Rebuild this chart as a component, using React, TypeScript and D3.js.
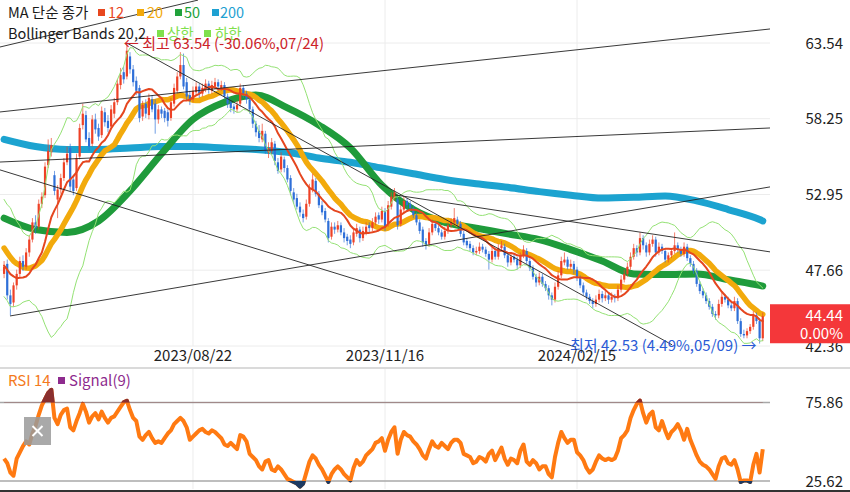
import { useEffect, useRef } from 'react';
import * as d3 from 'd3';

const W = 850;
const H = 492;
const PLOT_R = 770;
const FONT = "'Noto Sans CJK KR', 'Noto Sans', sans-serif";

// closes before the first visible day, only used to warm up MA12/MA20/BB
const priorCloses = [52.4, 51.6, 51.9, 51.0, 50.5, 50.8, 49.9, 50.2, 49.4, 49.0, 48.5, 48.9, 48.0, 47.6, 48.1, 47.3, 46.8, 47.4, 46.9];

// daily candles [open, high, low, close], 2023/05/25 .. 2024/05/10
const ohlc: [number, number, number, number][] = [
  [47.4, 48.3, 47.1, 47.9], [48.1, 48.4, 45.6, 45.9], [45.9, 46.3, 44.5, 45.3], [45.4, 46.8, 45.1, 46.6], [46.6, 47.7, 46.3, 47.4],
  [47.4, 48.6, 47.2, 48.3], [48.3, 48.7, 47.6, 47.9], [47.9, 49.2, 47.7, 48.9], [48.9, 50.1, 48.6, 49.8], [49.8, 51.3, 49.6, 51.0],
  [51.0, 51.5, 50.2, 50.6], [50.7, 52.6, 50.5, 52.3], [52.3, 53.1, 52.0, 52.8], [52.9, 55.2, 52.7, 54.9], [55.0, 56.8, 54.8, 56.0],
  [55.9, 56.9, 55.6, 56.4], [54.3, 54.6, 52.9, 53.2], [52.6, 53.6, 51.3, 53.3], [53.3, 54.4, 53.0, 54.1], [54.1, 55.5, 53.9, 55.2],
  [55.2, 56.3, 55.0, 55.8], [56.2, 56.5, 53.2, 53.5], [54.0, 54.3, 52.9, 53.2], [53.4, 55.8, 53.2, 55.5], [55.6, 57.9, 55.4, 57.6],
  [57.8, 59.3, 57.5, 58.6], [58.5, 58.8, 56.6, 56.8], [56.9, 57.3, 56.0, 56.3], [56.5, 58.5, 56.3, 58.2], [58.2, 58.6, 57.2, 57.5],
  [57.6, 57.9, 56.7, 57.0], [57.1, 59.1, 56.9, 58.8], [58.7, 59.0, 57.7, 58.0], [58.1, 58.5, 57.3, 57.6], [57.7, 59.2, 57.5, 58.9],
  [58.6, 59.7, 58.3, 59.4], [59.4, 61.0, 59.2, 60.7], [60.6, 61.8, 60.3, 61.3], [61.5, 61.9, 60.7, 61.0], [61.2, 63.54, 61.0, 63.0],
  [62.6, 62.9, 61.4, 61.7], [61.7, 62.0, 60.5, 60.8], [60.9, 61.2, 59.9, 60.2], [60.4, 60.6, 58.0, 58.3], [58.4, 59.5, 58.1, 59.2],
  [59.3, 59.6, 58.3, 58.6], [58.5, 60.0, 58.2, 59.7], [59.6, 59.9, 58.7, 58.9], [59.3, 59.6, 57.2, 58.2], [58.2, 59.2, 57.9, 58.9],
  [58.9, 59.1, 58.3, 58.6], [58.8, 59.0, 58.0, 58.3], [58.7, 58.9, 57.7, 58.1], [58.3, 59.7, 58.1, 59.4], [59.3, 60.7, 59.1, 60.4],
  [60.2, 61.5, 60.0, 61.2], [61.2, 62.9, 61.0, 62.0], [62.0, 62.8, 60.3, 60.5], [60.8, 61.1, 59.5, 59.8], [59.9, 60.2, 59.2, 59.5],
  [59.6, 60.5, 59.4, 60.2], [60.1, 60.8, 59.9, 60.5], [60.5, 60.7, 59.7, 60.0], [60.0, 60.7, 59.8, 60.4], [60.3, 61.0, 60.1, 60.7],
  [60.7, 60.9, 60.0, 60.3], [60.2, 60.9, 60.0, 60.6], [60.5, 61.1, 60.3, 60.8], [60.8, 61.0, 60.2, 60.5], [60.4, 60.9, 60.2, 60.6],
  [60.6, 60.8, 59.6, 59.8], [59.8, 60.0, 59.0, 59.3], [59.4, 59.6, 58.7, 59.0], [59.1, 59.3, 58.6, 58.9], [58.9, 59.5, 58.7, 59.2],
  [59.3, 60.7, 59.1, 60.4], [60.4, 60.6, 59.7, 60.0], [60.0, 60.2, 59.3, 59.6], [59.6, 59.8, 58.6, 58.9], [58.9, 59.1, 57.6, 57.9],
  [57.9, 58.1, 57.0, 57.3], [57.4, 57.8, 56.6, 56.9], [56.8, 57.9, 56.6, 57.4], [57.2, 57.4, 55.8, 56.0], [55.9, 56.6, 55.5, 56.2],
  [56.0, 56.9, 55.8, 56.6], [56.5, 56.7, 55.0, 55.3], [55.2, 55.5, 54.4, 54.6], [54.7, 55.9, 54.5, 55.6], [55.4, 55.6, 54.5, 54.8],
  [54.8, 55.0, 53.8, 54.0], [54.1, 54.3, 52.9, 53.2], [53.1, 53.4, 52.3, 52.6], [52.7, 53.0, 51.9, 52.1], [52.1, 52.4, 51.4, 51.7],
  [51.6, 51.9, 51.0, 51.3], [51.4, 52.6, 51.2, 52.3], [52.3, 53.7, 52.1, 53.4], [53.3, 54.4, 53.1, 54.0], [53.9, 54.1, 52.8, 53.0],
  [53.0, 53.2, 52.0, 52.2], [52.2, 52.5, 51.5, 51.7], [51.8, 52.0, 51.0, 51.2], [51.1, 51.3, 49.6, 49.9], [50.0, 51.0, 49.8, 50.7],
  [50.7, 51.0, 50.2, 50.5], [50.5, 51.1, 50.3, 50.8], [50.8, 51.0, 50.1, 50.3], [50.3, 50.6, 49.6, 49.9], [50.0, 50.2, 49.4, 49.7],
  [49.8, 50.1, 49.2, 49.5], [49.6, 50.6, 49.4, 50.3], [50.2, 50.9, 50.0, 50.6], [50.5, 50.7, 49.6, 49.9], [49.9, 50.7, 49.7, 50.4],
  [50.3, 51.0, 50.1, 50.7], [50.8, 51.0, 50.3, 50.6], [50.6, 51.3, 50.4, 51.0], [51.0, 51.7, 50.8, 51.4], [51.5, 51.7, 50.9, 51.2],
  [51.2, 52.1, 51.0, 51.8], [51.8, 52.0, 50.4, 50.7], [50.9, 52.5, 50.7, 52.2], [52.1, 53.1, 51.9, 52.8], [52.7, 53.4, 52.5, 53.1],
  [52.6, 52.8, 50.5, 50.8], [50.9, 52.2, 50.7, 51.9], [51.9, 52.8, 51.7, 52.5], [52.5, 52.7, 51.9, 52.2], [52.3, 52.5, 51.8, 52.0],
  [52.0, 52.2, 51.3, 51.5], [51.5, 51.7, 50.8, 51.0], [51.0, 51.2, 50.2, 50.4], [50.5, 50.7, 49.3, 49.6], [49.7, 49.9, 49.1, 49.4],
  [49.5, 50.6, 49.3, 50.3], [50.3, 51.2, 50.1, 50.9], [50.9, 51.1, 50.4, 50.6], [50.6, 50.8, 50.1, 50.3], [50.3, 50.5, 49.8, 50.0],
  [50.0, 50.7, 49.8, 50.4], [50.4, 51.0, 50.2, 50.8], [50.8, 51.3, 50.6, 51.0], [51.0, 52.0, 50.8, 51.3], [51.2, 51.4, 50.7, 50.9],
  [50.9, 51.1, 50.0, 50.2], [50.2, 50.4, 49.4, 49.6], [49.7, 49.9, 49.2, 49.4], [49.5, 49.7, 49.0, 49.2], [49.2, 49.4, 48.7, 48.9],
  [48.9, 49.3, 48.7, 49.0], [49.0, 49.6, 48.8, 49.3], [49.3, 49.5, 48.9, 49.1], [49.1, 49.3, 48.6, 48.8], [48.8, 49.0, 47.7, 48.4],
  [48.4, 49.3, 48.2, 49.0], [49.0, 49.2, 48.4, 48.6], [48.6, 49.5, 48.4, 49.2], [49.2, 49.7, 49.0, 49.4], [49.3, 49.5, 48.5, 48.7],
  [48.7, 48.9, 47.9, 48.2], [48.2, 48.9, 48.0, 48.6], [48.6, 48.8, 48.2, 48.4], [48.4, 48.6, 47.7, 48.0], [48.0, 48.9, 47.8, 48.7],
  [48.7, 49.4, 48.5, 49.1], [49.0, 49.2, 48.1, 48.3], [48.3, 48.5, 47.6, 47.8], [47.8, 48.0, 47.0, 47.2], [47.2, 47.4, 46.5, 46.8],
  [46.8, 47.5, 46.6, 47.2], [47.2, 47.4, 46.5, 46.7], [46.7, 46.9, 46.2, 46.4], [46.4, 46.6, 45.6, 45.9], [45.9, 46.1, 45.2, 45.6],
  [45.6, 46.8, 45.4, 46.5], [46.5, 47.6, 46.3, 47.3], [47.3, 48.6, 47.1, 48.3], [48.2, 48.9, 48.0, 48.4], [48.4, 48.6, 47.7, 47.9],
  [47.9, 48.4, 47.7, 48.1], [48.1, 48.3, 47.4, 47.7], [47.7, 47.9, 46.9, 47.1], [47.1, 47.3, 46.4, 46.6], [46.6, 46.8, 45.9, 46.1],
  [46.1, 46.3, 45.6, 45.8], [45.8, 46.0, 45.3, 45.5], [45.5, 45.7, 45.0, 45.3], [45.3, 45.9, 45.1, 45.6], [45.6, 46.3, 45.4, 46.0],
  [46.0, 46.2, 45.4, 45.7], [45.7, 46.2, 45.5, 45.9], [45.9, 46.1, 45.3, 45.6], [45.6, 46.1, 45.4, 45.8], [45.8, 46.0, 45.4, 45.7],
  [45.7, 46.6, 45.5, 46.3], [46.3, 47.3, 46.1, 47.0], [47.0, 47.7, 46.8, 47.4], [47.4, 48.2, 47.2, 47.9], [47.9, 48.9, 47.7, 48.6],
  [48.6, 49.5, 48.4, 49.2], [49.2, 49.4, 48.6, 48.9], [48.9, 50.3, 48.7, 49.9], [49.9, 50.1, 49.1, 49.4], [49.4, 49.6, 48.6, 48.9],
  [48.9, 49.8, 48.7, 49.5], [49.5, 50.1, 49.3, 49.8], [49.8, 50.0, 48.6, 48.9], [48.9, 49.6, 48.7, 49.3], [49.3, 49.5, 48.8, 49.0],
  [49.0, 49.2, 48.2, 48.4], [48.4, 48.9, 48.2, 48.7], [48.7, 49.2, 48.5, 49.0], [49.0, 50.3, 48.8, 49.4], [49.4, 49.6, 48.9, 49.1],
  [49.1, 49.3, 48.6, 48.8], [48.8, 49.6, 48.6, 49.3], [49.3, 49.5, 48.3, 48.5], [48.5, 48.7, 47.9, 48.1], [48.1, 48.3, 47.4, 47.6],
  [47.6, 47.8, 46.5, 46.7], [46.7, 46.9, 46.0, 46.2], [46.2, 46.4, 45.7, 45.9], [45.9, 46.1, 45.3, 45.5], [45.5, 45.7, 44.9, 45.1],
  [45.1, 45.3, 44.4, 44.6], [44.6, 44.8, 44.2, 44.5], [44.5, 45.6, 44.3, 45.3], [45.3, 46.1, 45.1, 45.8], [45.8, 46.0, 45.4, 45.6],
  [45.6, 45.8, 45.0, 45.2], [45.2, 45.4, 44.8, 45.0], [45.0, 45.8, 44.8, 45.5], [45.5, 45.7, 43.9, 44.1], [44.1, 44.3, 43.0, 43.2],
  [43.2, 43.5, 42.9, 43.1], [43.1, 43.6, 42.9, 43.4], [43.4, 43.9, 43.2, 43.7], [43.7, 44.8, 43.5, 44.5], [44.5, 44.7, 43.9, 44.1],
  [44.1, 44.3, 42.53, 42.9], [42.9, 44.7, 42.7, 44.44],
];

// RSI(14), one value per candle
const rsi14 = [
  40, 37, 31, 29, 40, 44, 48, 51, 49, 56,
  61, 68, 74, 78, 82, 84, 66, 62, 68, 71,
  72, 60, 58, 64, 69, 75, 70, 63, 67, 69,
  65, 70, 66, 63, 66, 67, 70, 73, 76, 77,
  71, 66, 64, 54, 52, 55, 57, 53, 50, 51,
  50, 53, 56, 58, 62, 64, 66, 64, 60, 52,
  54, 56, 58, 59, 57, 56, 58, 57, 55, 53,
  49, 48, 50, 48, 46, 55, 54, 51, 43, 41,
  39, 35, 33, 38, 39, 33, 32, 35, 33, 30,
  27, 26, 25, 24, 22, 24, 31, 38, 42, 40,
  36, 33, 29, 25, 30, 33, 35, 33, 30, 28,
  26, 34, 39, 36, 38, 42, 44, 46, 50, 51,
  53, 45, 52, 57, 60, 43, 52, 57, 55, 54,
  51, 49, 46, 42, 40, 46, 51, 48, 47, 50,
  48, 46, 50, 52, 52, 50, 43, 42, 41, 37,
  38, 41, 40, 38, 43, 45, 39, 43, 47, 40,
  36, 40, 39, 37, 45, 49, 38, 36, 39, 37,
  33, 35, 35, 30, 28, 41, 50, 57, 53, 50,
  52, 52, 44, 42, 39, 34, 31, 33, 38, 42,
  40, 39, 40, 39, 40, 45, 53, 55, 58, 66,
  71, 75, 77, 69, 63, 68, 70, 60, 58, 64,
  58, 53, 57, 59, 62, 58, 52, 59, 52, 47,
  42, 38, 36, 35, 33, 30, 27, 35, 40, 41,
  37, 36, 39, 33, 25, 26, 26, 25, 36, 43,
  31, 46,
];

// MA50 / MA200 at every 10th candle (+ last)
const maSampleIdx = [0, 10, 20, 30, 40, 50, 60, 70, 80, 90, 100, 110, 120, 130, 140, 150, 160, 170, 180, 190, 200, 210, 220, 230, 240, 241];
const ma50 = [51.3, 50.5, 50.3, 51.1, 53.2, 55.8, 58.2, 59.4, 59.9, 59.0, 57.8, 56.2, 53.6, 51.9, 51.0, 50.6, 50.2, 49.8, 49.1, 48.3, 47.4, 47.35, 47.4, 47.0, 46.6, 46.55];
const ma200 = [56.8, 56.3, 56.1, 56.1, 56.2, 56.3, 56.3, 56.2, 56.1, 55.9, 55.5, 55.2, 54.8, 54.4, 54.0, 53.7, 53.45, 53.15, 52.9, 52.7, 52.75, 52.85, 52.5, 51.9, 51.2, 51.1];

const priceTicks = [63.54, 58.25, 52.95, 47.66, 42.36];
const rsiLevels = [75.86, 25.62];
const dateTickIdx = [60, 121, 182];
const dateTickLabels = ['2023/08/22', '2023/11/16', '2024/02/15'];

// drawn trend lines: [index1, price1, index2, price2]
const trendLines: [number, number, number, number][] = [
  [-1.3, 58.72, 243.3, 64.52],
  [-1.3, 55.22, 243.3, 57.6],
  [-1.3, 63.26, 61.6, 66.54],
  [39, 63.54, 212.2, 42.44],
  [-1.3, 54.67, 181.4, 42.3],
  [1.9, 44.46, 243.3, 53.48],
  [124.2, 52.92, 243.3, 48.94],
];

const highIdx = 39;
const highVal = 63.54;
const lowIdx = 240;
const lowVal = 42.53;
const lastClose = 44.44;
const lastChange = '0.00%';

const UP = '#ee4126';
const DOWN = '#2e6fd8';

export default function App() {
  const svgRef = useRef<SVGSVGElement>(null);

  useEffect(() => {
    if (!svgRef.current) return;
    const svg = d3.select(svgRef.current);
    svg.selectAll('*').remove();

    const N = ohlc.length;
    const closes = ohlc.map(d => d[3]);
    const all = priorCloses.concat(closes);
    const P = priorCloses.length;
    const win = (i: number, n: number) => all.slice(P + i - n + 1, P + i + 1);
    const sma = (n: number) => d3.range(N).map(i => d3.mean(win(i, n)) as number);
    const ma12 = sma(12);
    const ma20 = sma(20);
    const bbUp: number[] = [];
    const bbLo: number[] = [];
    d3.range(N).forEach(i => {
      const w = win(i, 20);
      const m = d3.mean(w) as number;
      const sd = Math.sqrt(d3.mean(w, v => (v - m) * (v - m)) as number);
      bbUp.push(m + 2 * sd);
      bbLo.push(m - 2 * sd);
    });

    const x = d3.scaleLinear().domain([-1.3, 243.3]).range([0, PLOT_R]);
    const y = d3.scaleLinear().domain([42.36, 63.54]).range([346, 43]);
    const yR = d3.scaleLinear().domain([25.62, 75.86]).range([481, 402.5]);

    svg.append('rect').attr('width', W).attr('height', H).attr('fill', '#fff');

    const defs = svg.append('defs');
    defs.append('clipPath').attr('id', 'clip-price')
      .append('rect').attr('x', 0).attr('y', 0).attr('width', PLOT_R).attr('height', 366);
    defs.append('clipPath').attr('id', 'clip-ob')
      .append('rect').attr('x', 0).attr('y', 369).attr('width', PLOT_R).attr('height', yR(75.86) - 369);
    defs.append('clipPath').attr('id', 'clip-os')
      .append('rect').attr('x', 0).attr('y', yR(25.62)).attr('width', PLOT_R).attr('height', 489 - yR(25.62));

    // grid
    const grid = svg.append('g').attr('stroke', '#ececec').attr('stroke-width', 1);
    grid.selectAll('line.h').data(priceTicks).join('line').attr('class', 'h')
      .attr('x1', 0).attr('x2', PLOT_R).attr('y1', d => y(d)).attr('y2', d => y(d));
    grid.selectAll('line.v').data(dateTickIdx).join('line').attr('class', 'v')
      .attr('x1', d => x(d)).attr('x2', d => x(d)).attr('y1', 0).attr('y2', 346);
    grid.selectAll('line.vr').data(dateTickIdx).join('line').attr('class', 'vr')
      .attr('x1', d => x(d)).attr('x2', d => x(d)).attr('y1', 369).attr('y2', 489);

    const price = svg.append('g').attr('clip-path', 'url(#clip-price)');

    const lineI = d3.line<number>().x((_, i) => x(i)).y(d => y(d));
    const lineS = d3.line<number>().x((_, k) => x(maSampleIdx[k])).y(d => y(d)).curve(d3.curveMonotoneX);

    const thick = (d: string, color: string, w: number) =>
      price.append('path').attr('d', d).attr('fill', 'none').attr('stroke', color)
        .attr('stroke-width', w).attr('stroke-linejoin', 'round').attr('stroke-linecap', 'round');

    thick(lineS(ma200) as string, '#1ca3d0', 7);
    thick(lineS(ma50) as string, '#1f9b3b', 7);
    thick(lineI(ma20) as string, '#f2aa0c', 5.5);

    // candles
    const bw = 2.2;
    const cg = price.append('g');
    const col = (d: [number, number, number, number]) => (d[3] >= d[0] ? UP : DOWN);
    cg.selectAll('line').data(ohlc).join('line')
      .attr('x1', (_, i) => x(i)).attr('x2', (_, i) => x(i))
      .attr('y1', d => y(d[1])).attr('y2', d => y(d[2]))
      .attr('stroke', d => col(d)).attr('stroke-width', 0.9).attr('opacity', 0.75);
    cg.selectAll('rect').data(ohlc).join('rect')
      .attr('x', (_, i) => x(i) - bw / 2).attr('width', bw)
      .attr('y', d => y(Math.max(d[0], d[3])))
      .attr('height', d => Math.max(1, Math.abs(y(d[0]) - y(d[3]))))
      .attr('fill', d => col(d));

    thick(lineI(ma12) as string, '#e5461f', 2);
    thick(lineI(bbUp) as string, '#94e274', 1);
    thick(lineI(bbLo) as string, '#94e274', 1);

    // trend lines
    price.append('g').selectAll('line').data(trendLines).join('line')
      .attr('x1', d => x(d[0])).attr('y1', d => y(d[1]))
      .attr('x2', d => x(d[2])).attr('y2', d => y(d[3]))
      .attr('stroke', '#222').attr('stroke-width', 0.9);

    // legends
    const txt = (tx: number, ty: number, s: string, color: string, size = 14.5, anchor = 'start') =>
      svg.append('text').attr('x', tx).attr('y', ty).attr('fill', color).attr('font-size', size)
        .attr('font-family', FONT).attr('text-anchor', anchor).text(s);
    const sq = (sx: number, sy: number, color: string) =>
      svg.append('rect').attr('x', sx).attr('y', sy).attr('width', 7).attr('height', 7).attr('fill', color);

    txt(8, 18, 'MA 단순 종가', '#1a1a1a');
    sq(98, 9, '#e8471e'); txt(108, 18, '12', '#e8471e');
    sq(137, 9, '#f2a90a'); txt(147, 18, '20', '#f2a90a');
    sq(175, 9, '#21a23b'); txt(184, 18, '50', '#21a23b');
    sq(212, 9, '#1ea1d2'); txt(220, 18, '200', '#1ea1d2');

    txt(8, 39, 'Bollinger Bands 20,2', '#1a1a1a');
    sq(157, 30, '#7fe04c'); txt(167, 39, '상한', '#7fe04c');
    sq(204, 30, '#7fe04c'); txt(215, 39, '하한', '#7fe04c');

    // high / low annotations
    txt(x(highIdx) - 3, y(highVal) + 6, '← 최고 63.54 (-30.06%,07/24)', '#cc2229', 15);
    txt(x(lowIdx) - 3, y(lowVal) + 7, '최저 42.53 (4.49%,05/09) →', '#2a5bd6', 15, 'end');

    // price axis
    svg.append('g').selectAll('text').data(priceTicks).join('text')
      .attr('x', 843).attr('y', d => y(d) + 5.5).attr('text-anchor', 'end')
      .attr('font-size', 15).attr('font-family', FONT).attr('fill', '#222')
      .text(d => d.toFixed(2));

    // date axis
    svg.append('g').selectAll('text').data(dateTickIdx).join('text')
      .attr('x', d => x(d)).attr('y', 361).attr('text-anchor', 'middle')
      .attr('font-size', 15).attr('font-family', FONT).attr('fill', '#222')
      .text((_, k) => dateTickLabels[k]);

    // current price tag
    const tagY = y(lastClose) - 12;
    svg.append('rect').attr('x', PLOT_R).attr('y', tagY).attr('width', W - PLOT_R).attr('height', 39).attr('fill', '#f4373a');
    txt(843, tagY + 17, lastClose.toFixed(2), '#fff', 15, 'end');
    txt(843, tagY + 35, lastChange, '#fff', 15, 'end');

    // panel separators
    svg.append('line').attr('x1', 0).attr('x2', W).attr('y1', 368).attr('y2', 368).attr('stroke', '#b5b5b5');
    svg.append('line').attr('x1', 0).attr('x2', W).attr('y1', 491).attr('y2', 491).attr('stroke', '#333').attr('stroke-width', 2);

    // RSI panel
    svg.append('g').selectAll('line').data(rsiLevels).join('line')
      .attr('x1', 0).attr('x2', PLOT_R).attr('y1', d => yR(d)).attr('y2', d => yR(d))
      .attr('stroke', '#a8a8a8').attr('stroke-width', 1.5);

    const lineR = d3.line<number>().x((_, i) => x(i)).y(d => yR(d));
    svg.append('path').attr('d', lineR(rsi14) as string).attr('fill', 'none')
      .attr('stroke', '#ff7a12').attr('stroke-width', 4).attr('stroke-linejoin', 'round');

    const areaOb = d3.area<number>().x((_, i) => x(i)).y0(yR(75.86)).y1(d => yR(d));
    const areaOs = d3.area<number>().x((_, i) => x(i)).y0(yR(25.62)).y1(d => yR(d));
    const ob = svg.append('g').attr('clip-path', 'url(#clip-ob)');
    ob.append('path').attr('d', areaOb(rsi14) as string).attr('fill', '#8a2f2f');
    ob.append('path').attr('d', lineR(rsi14) as string).attr('fill', 'none')
      .attr('stroke', '#8a2f2f').attr('stroke-width', 4).attr('stroke-linejoin', 'round');
    const os = svg.append('g').attr('clip-path', 'url(#clip-os)');
    os.append('path').attr('d', areaOs(rsi14) as string).attr('fill', '#1d3a62');
    os.append('path').attr('d', lineR(rsi14) as string).attr('fill', 'none')
      .attr('stroke', '#1d3a62').attr('stroke-width', 4).attr('stroke-linejoin', 'round');

    svg.append('g').selectAll('text').data(rsiLevels).join('text')
      .attr('x', 843).attr('y', d => yR(d) + 5.5).attr('text-anchor', 'end')
      .attr('font-size', 15).attr('font-family', FONT).attr('fill', '#222')
      .text(d => d.toFixed(2));

    txt(8, 386, 'RSI 14', '#f47a1c', 15);
    sq(58, 377, '#8e2b8e');
    txt(69, 386, 'Signal(9)', '#8e2b8e', 15);

    // close button
    svg.append('rect').attr('x', 24).attr('y', 417).attr('width', 27).attr('height', 28)
      .attr('fill', '#9a9a9a').attr('opacity', 0.85);
    svg.append('path').attr('d', 'M32.5,426 L42.5,436 M42.5,426 L32.5,436')
      .attr('stroke', '#fff').attr('stroke-width', 2);
  }, []);

  return (
    <div style={{ width: W, height: H }}>
      <style>{'body{margin:0;background:#fff}'}</style>
      <svg ref={svgRef} width={W} height={H} style={{ display: 'block' }} />
    </div>
  );
}
